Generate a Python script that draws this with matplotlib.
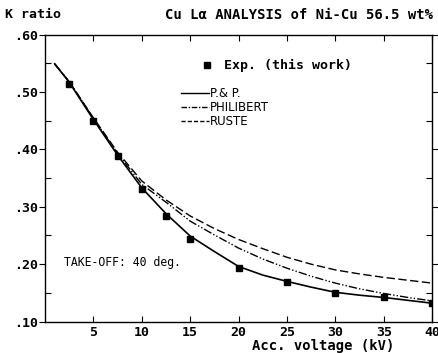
import numpy as np
import matplotlib.pyplot as plt
from matplotlib.lines import Line2D

# experimental points (this work)
exp_kv = [2.5, 5, 7.5, 10, 12.5, 15, 20, 25, 30, 35, 40]
exp_k = [0.514, 0.449, 0.388, 0.331, 0.284, 0.244, 0.193, 0.169, 0.150, 0.142, 0.132]

curve_kv = [1, 2.5, 5, 7.5, 10, 12.5, 15, 17.5, 20, 22.5, 25, 27.5, 30, 32.5, 35, 37.5, 40]
pap_k = [0.549, 0.517, 0.452, 0.390, 0.333, 0.288, 0.249, 0.222, 0.196, 0.181,
         0.170, 0.160, 0.151, 0.146, 0.142, 0.137, 0.132]
philibert_k = [0.549, 0.518, 0.454, 0.393, 0.339, 0.308, 0.275, 0.251, 0.228, 0.209,
               0.193, 0.179, 0.167, 0.157, 0.149, 0.142, 0.136]
ruste_k = [0.549, 0.518, 0.455, 0.395, 0.345, 0.312, 0.284, 0.262, 0.243, 0.227,
           0.212, 0.200, 0.190, 0.183, 0.177, 0.172, 0.167]

xticks = [5, 10, 15, 20, 25, 30, 35, 40]
yticks = [0.10, 0.20, 0.30, 0.40, 0.50, 0.60]
ylabels = ['.10', '.20', '.30', '.40', '.50', '.60']

mono = 'DejaVu Sans Mono'

fig = plt.figure(figsize=(4.39, 3.53), dpi=100)
ax = fig.add_axes([0.1025, 0.089, 0.882, 0.813])

ax.plot(curve_kv, pap_k, '-', color='black', lw=1.2)
ax.plot(curve_kv, philibert_k, color='black', lw=1.0, dashes=[6, 1.5, 1, 1.5, 1, 1.5])
ax.plot(curve_kv, ruste_k, color='black', lw=1.0, dashes=[6, 2.5])
ax.plot(exp_kv, exp_k, 's', color='black', ms=5, ls='none')

ax.set_xlim(0, 40)
ax.set_ylim(0.10, 0.60)
ax.set_xticks(xticks)
ax.set_xticklabels([str(v) for v in xticks], fontfamily=mono, fontsize=9.5, fontweight='bold')
ax.set_yticks(yticks)
ax.set_yticklabels(ylabels, fontfamily=mono, fontsize=9.5, fontweight='bold')
ax.set_yticks(np.arange(0.15, 0.6, 0.1), minor=True)
ax.tick_params(axis='y', which='major', direction='out', length=4, width=0.8, pad=1)
ax.tick_params(axis='y', which='minor', direction='in', length=4, width=0.8)
ax.tick_params(axis='x', which='major', direction='in', length=4, width=0.8, top=True, pad=3)
ax.tick_params(axis='y', which='both', right=True)
for s in ax.spines.values():
    s.set_linewidth(1.0)

fig.text(0.012, 0.958, 'K ratio', fontfamily=mono, fontsize=9.5, fontweight='bold', va='center')
fig.text(0.987, 0.958, 'Cu L\u03b1 ANALYSIS of Ni-Cu 56.5 wt%', fontfamily=mono,
         fontsize=10, fontweight='bold', ha='right', va='center')
fig.text(0.736, 0.001, 'Acc. voltage (kV)', fontfamily=mono, fontsize=10,
         fontweight='bold', ha='center', va='bottom')
ax.text(0.05, 0.205, 'TAKE-OFF: 40 deg.', transform=ax.transAxes, fontfamily=mono,
        fontsize=8.3, va='center')

leg1 = ax.legend([Line2D([], [], marker='s', color='black', ls='none', ms=4)],
                 ['Exp. (this work)'], loc='upper left', bbox_to_anchor=(0.37, 0.955),
                 frameon=False, handlelength=1.0, handletextpad=0.8,
                 prop={'family': mono, 'size': 9.5, 'weight': 'bold'})
ax.add_artist(leg1)
handles = [Line2D([], [], color='black', lw=1.0),
           Line2D([], [], color='black', lw=1.0, dashes=[4, 1.2, 1, 1.2]),
           Line2D([], [], color='black', lw=1.0, dashes=[3, 1.5])]
ax.legend(handles, ['P.& P.', 'PHILIBERT', 'RUSTE'], loc='upper left',
          bbox_to_anchor=(0.34, 0.834), frameon=False, handlelength=2.3,
          handletextpad=0.15, labelspacing=0.1, borderaxespad=0,
          prop={'family': 'DejaVu Sans', 'size': 8.5})

fig.savefig('out.png', dpi=100)
